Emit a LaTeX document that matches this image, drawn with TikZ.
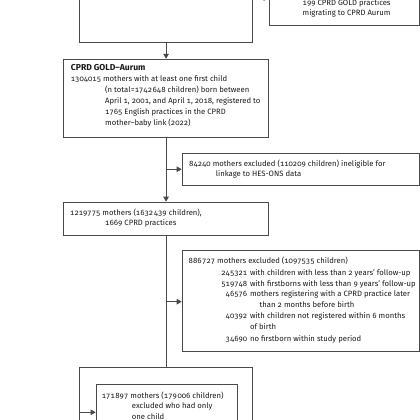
\documentclass[tikz,border=0pt]{standalone}
\usepackage{fontspec}
\setmainfont{Fira Sans}[Numbers={OldStyle,Monospaced}]
\usetikzlibrary{arrows.meta}
\definecolor{linec}{HTML}{4A4A4A}
\definecolor{textc}{HTML}{1A1A1A}
\newcommand{\myline}[4]{\node[txt] (#1) at (#2,#3) {#4};}
\newcommand{\mynum}[4]{\node[num] (#1) at (#2,#3) {#4};}
\begin{document}
\begin{tikzpicture}[x=1pt,y=-1pt,
  box/.style={draw=linec, line width=0.8pt, inner sep=0pt, anchor=north west},
  txt/.style={anchor=base west, inner sep=0pt, text=textc, font=\fontsize{7.7}{11}\selectfont},
  num/.style={txt, anchor=base east},
  conn/.style={draw=linec, line width=0.8pt},
  arr/.style={conn, -{Triangle[length=5pt,width=5.5pt]}}]
\path[use as bounding box] (0,0) rectangle (420,420);
\clip (0,0) rectangle (420,420);
% boxes
\node[box, minimum width=173.3pt, minimum height=101.7pt] (b1) at (79,-60) {};
\node[box, minimum width=150.3pt, minimum height=65pt] (tr) at (268.7,-40) {};
\node[box, minimum width=204.7pt, minimum height=78pt] (b2) at (63.3,58.8) {};
\node[box, minimum width=237.3pt, minimum height=32.3pt] (e1) at (181.7,152.7) {};
\node[box, minimum width=204.7pt, minimum height=33.3pt] (b3) at (63.3,201.7) {};
\node[box, minimum width=237.3pt, minimum height=101.2pt] (e2) at (181.7,249.5) {};
\node[box, minimum width=173.3pt, minimum height=80pt] (b4) at (79,367.3) {};
\node[box, minimum width=141pt, minimum height=60pt] (b5) at (95.7,384) {};
% connectors
\coordinate (trin) at (268.7,-2);
\coordinate (e2in) at (181.7,301.7);
\coordinate (b5in) at (95.7,412.3);
\draw[arr] (b1.east |- trin) -- (trin);
\draw[arr] (b1.south) -- (b1.south |- b2.north);
\draw[arr] (b2.south) -- (b3.north);
\draw[arr] (b2.south |- e1.west) -- (e1.west);
\draw[conn] (b3.south) -- (b4.north);
\draw[arr] (b3.south |- e2in) -- (e2in);
\draw[arr] (b4.west |- b5in) -- (b5in);
% texts
\myline{tra}{302.5}{5.5}{199 CPRD GOLD practices}
\myline{trb}{302.5}{15.8}{migrating to CPRD Aurum}
\myline{b2a}{70.7}{70.8}{\fontsize{8.6}{11}\selectfont\textbf{CPRD GOLD–Aurum}}
\myline{b2b}{70.7}{81.8}{1304015 mothers with at least one first child}
\myline{b2c}{105}{92.8}{(n total=1742\kern0.6pt648 children) born between}
\myline{b2d}{105}{103.8}{April 1, 2001, and April 1, 2018, registered to}
\myline{b2e}{105}{114.8}{1765 English practices in the CPRD}
\myline{b2f}{105}{125.8}{mother–baby link (2022)}
\myline{e1a}{189}{166.5}{84240 mothers excluded (110209 children) ineligible for}
\myline{e1b}{215.7}{176.8}{linkage to HES-ONS data}
\myline{b3a}{70}{215.2}{1219775 mothers (1632\kern0.6pt439 children),}
\myline{b3b}{105}{225.2}{1669 CPRD practices}
\myline{e2a}{188.5}{263.5}{886\kern0.6pt727 mothers excluded (1097535 children)}
\mynum{n1}{247.5}{275.5}{245321}
\myline{e2b}{249.8}{275.5}{with children with less than 2 years’ follow-up}
\mynum{n2}{247.5}{286}{519748}
\myline{e2c}{249.8}{286}{with firstborns with less than 9 years’ follow-up}
\mynum{n3}{247.5}{296.5}{46576}
\myline{e2d}{249.8}{296.5}{mothers registering with a CPRD practice later}
\myline{e2e}{259.5}{307.5}{than 2 months before birth}
\mynum{n4}{247.5}{318.5}{40392}
\myline{e2f}{249.8}{318.5}{with children not registered within 6 months}
\myline{e2g}{249.8}{329.5}{of birth}
\mynum{n5}{247.5}{341}{34690}
\myline{e2h}{249.8}{341}{no firstborn within study period}
\myline{b5a}{101.7}{398.2}{171\kern0.6pt897 mothers (179\kern0.6pt006 children)}
\myline{b5b}{131.7}{408.5}{excluded who had only}
\myline{b5c}{131.7}{419.2}{one child}
\end{tikzpicture}
\end{document}
